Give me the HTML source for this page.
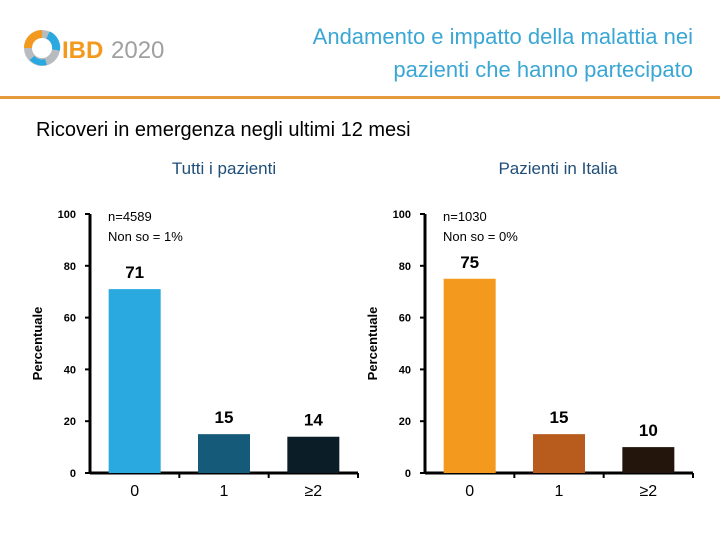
<!DOCTYPE html>
<html><head><meta charset="utf-8"><style>
body{margin:0;width:720px;height:540px;background:#fff;overflow:hidden;font-family:"Liberation Sans",sans-serif}
svg text{font-family:"Liberation Sans",sans-serif}
</style></head><body>
<svg width="720" height="540">
<g>
<circle cx="42" cy="48" r="14" fill="none" stroke="#b8bcc0" stroke-width="8"/>
<path d="M28 48 A14 14 0 0 1 42 34" fill="none" stroke="#f39a1e" stroke-width="8"/>
<path d="M48 35 A14 14 0 0 1 56 50" fill="none" stroke="#29a9e0" stroke-width="8"/>
<path d="M32 58 A14 14 0 0 0 46 62" fill="none" stroke="#29a9e0" stroke-width="6"/>
<text x="62" y="58" font-size="24" fill="#f39a1e" font-weight="bold">IBD</text>
<text x="111" y="58" font-size="24" fill="#a0a0a0">2020</text>
</g>
<text x="693" y="44" font-size="22" fill="#3aa6d4" text-anchor="end">Andamento e impatto della malattia nei</text>
<text x="693" y="77" font-size="22" fill="#3aa6d4" text-anchor="end">pazienti che hanno partecipato</text>
<rect x="0" y="96" width="720" height="3" fill="#e59a3b"/>
<text x="36" y="136" font-size="20" fill="#000">Ricoveri in emergenza negli ultimi 12 mesi</text>
<text x="224" y="174" font-size="17" fill="#1f4e79" text-anchor="middle">Tutti i pazienti</text>
<text x="558" y="174" font-size="17" fill="#1f4e79" text-anchor="middle">Pazienti in Italia</text>
<g id="charts"></g>
</svg>
<script>
const categories=["0","1","≥2"];
const valuesAll=[71,15,14];
const valuesItaly=[75,15,10];
const yTicks=[0,20,40,60,80,100];
const colorsAll=["#29a9e0","#165a7a","#0b1d26"];
const colorsItaly=["#f39a1e","#b85c1e","#23150b"];
const NS="http://www.w3.org/2000/svg";
const root=document.getElementById('charts');
function mk(tag,attrs,txt){const e=document.createElementNS(NS,tag);for(const k in attrs)e.setAttribute(k,attrs[k]);if(txt!=null)e.textContent=txt;return e;}
function chart(ax,vals,cols,note1,note2,prefix){
  const y0=473,h=259,w=268;
  const y=v=>y0-v/100*h;
  const band=w/categories.length;
  const g=mk('g',{});
  
  
  root.appendChild(g);
  const ya=mk('line',{x1:ax,y1:y(100),x2:ax,y2:y0+1,stroke:'#000','stroke-width':3});
  g.appendChild(ya);
  const xa=mk('line',{x1:ax,y1:y0,x2:ax+w,y2:y0,stroke:'#000','stroke-width':3});
  g.appendChild(xa);
  yTicks.forEach(t=>{
    const l=mk('line',{x1:ax-5,y1:y(t),x2:ax,y2:y(t),stroke:'#000','stroke-width':2});
    g.appendChild(l);
    const tx=mk('text',{x:ax-14,y:y(t)+4,'font-size':11,'font-weight':'bold','text-anchor':'end'},String(t));
    g.appendChild(tx);
  });
  for(let i=1;i<=categories.length;i++){
    const l=mk('line',{x1:ax+band*i,y1:y0,x2:ax+band*i,y2:y0+5,stroke:'#000','stroke-width':2});
    g.appendChild(l);
  }
  categories.forEach((c,i)=>{
    const cx=ax+band*(i+0.5);
    const r=mk('rect',{x:cx-26,y:y(vals[i]),width:52,height:y0-y(vals[i]),fill:cols[i]});
    g.appendChild(r);
    const vl=mk('text',{x:cx,y:y(vals[i])-11,'font-size':17,'font-weight':'bold','text-anchor':'middle'},String(vals[i]));
    g.appendChild(vl);
    const xl=mk('text',{x:cx,y:y0+23,'font-size':16,'text-anchor':'middle'},c);
    g.appendChild(xl);
  });
  const n1=mk('text',{x:ax+18,y:221,'font-size':13},note1);
  g.appendChild(n1);
  const n2=mk('text',{x:ax+18,y:241,'font-size':13},note2);
  g.appendChild(n2);
  const yt=mk('text',{x:0,y:0,'font-size':13,'font-weight':'bold','text-anchor':'middle',transform:`translate(${ax-48},${y(50)}) rotate(-90)`},'Percentuale');
  g.appendChild(yt);
}
chart(90,valuesAll,colorsAll,"n=4589","Non so = 1%","all");
chart(425,valuesItaly,colorsItaly,"n=1030","Non so = 0%","italy");
</script>
</body></html>
